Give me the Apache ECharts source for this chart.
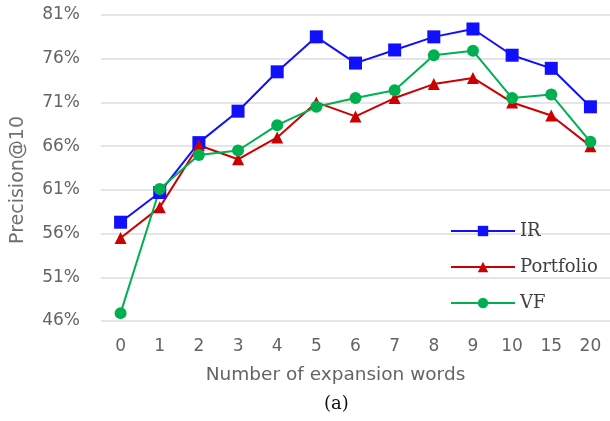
<!DOCTYPE html>
<html><head><meta charset="utf-8">
<script src="https://cdn.jsdelivr.net/npm/echarts@6/dist/echarts.min.js"></script>
<style>html,body{margin:0;padding:0;background:#fff}#c{width:610px;height:421px}</style>
</head><body><div id="c"></div>
<script>
const categories = ['0','1','2','3','4','5','6','7','8','9','10','15','20'];
const irValues = [57.3, 60.7, 66.4, 70.0, 74.5, 78.5, 75.5, 77.0, 78.5, 79.4, 76.4, 74.9, 70.5];
const portfolioValues = [55.5, 59.0, 66.1, 64.5, 67.0, 71.0, 69.4, 71.5, 73.1, 73.8, 71.0, 69.5, 66.0];
const vfValues = [46.9, 61.1, 65.0, 65.5, 68.4, 70.5, 71.5, 72.4, 76.4, 76.9, 71.5, 71.9, 66.5];
const yTicks = [46, 51, 56, 61, 66, 71, 76, 81];

const chart = echarts.init(document.getElementById('c'), null, {renderer: 'canvas'});
const tickFont = {fontFamily: 'DejaVu Sans', fontSize: 17, color: '#646464'};
chart.setOption({
  animation: false,
  grid: {left: 101, right: -4, top: 15, bottom: 100},
  graphic: [{
    type: 'text', left: 324, top: 395,
    style: {text: '(a)', fontFamily: 'DejaVu Serif', fontSize: 18, fill: '#111'}
  }],
  legend: {
    orient: 'vertical', left: 445, top: 217, itemGap: 18, itemWidth: 64, itemHeight: 13,
    textStyle: {fontFamily: 'DejaVu Serif', fontSize: 18, color: '#404040'},
    data: ['IR', 'Portfolio', 'VF']
  },
  xAxis: {
    type: 'category', data: categories, boundaryGap: true,
    axisLine: {show: false}, axisTick: {show: false},
    axisLabel: Object.assign({margin: 17}, tickFont),
    name: 'Number of expansion words', nameLocation: 'middle', nameGap: 45,
    nameTextStyle: {fontFamily: 'DejaVu Sans', fontSize: 18.5, color: '#646464', padding: [0, 40, 0, 0]}
  },
  yAxis: {
    type: 'value', min: 46, max: 81,
    axisLine: {show: false}, axisTick: {show: false, customValues: yTicks},
    axisLabel: Object.assign({customValues: yTicks, margin: 21, formatter: v => v + '%'}, tickFont),
    splitLine: {show: true, lineStyle: {color: '#dcdcdc', width: 1.5}},
    name: 'Precision@10', nameLocation: 'middle', nameGap: 73, nameRotate: 90,
    nameTextStyle: {fontFamily: 'DejaVu Sans', fontSize: 19, color: '#707070', padding: [0, 24, 0, 0]}
  },
  series: [
    {name: 'IR', type: 'line', data: irValues, symbol: 'rect', symbolSize: 13,
     lineStyle: {color: '#1010ff', width: 2}, itemStyle: {color: '#1010ff'}},
    {name: 'Portfolio', type: 'line', data: portfolioValues, symbol: 'triangle', symbolSize: 12,
     lineStyle: {color: '#cc0000', width: 2}, itemStyle: {color: '#cc0000'}},
    {name: 'VF', type: 'line', data: vfValues, symbol: 'circle', symbolSize: 12,
     lineStyle: {color: '#00b050', width: 2}, itemStyle: {color: '#00b050'}}
  ]
});
</script></body></html>
